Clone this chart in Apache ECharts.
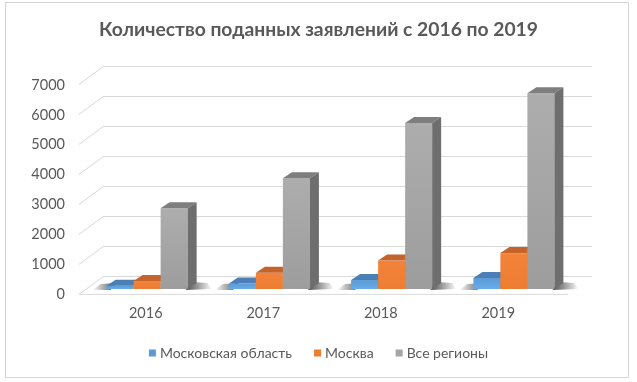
<!DOCTYPE html>
<html><head><meta charset="utf-8">
<script src="https://cdn.jsdelivr.net/npm/echarts@6/dist/echarts.min.js"></script>
<style>html,body{margin:0;padding:0;background:#fff}#c{width:637px;height:382px;}</style>
</head><body><div id="c"></div><script>
const categories = ['2016', '2017', '2018', '2019'];
const seriesNames = ['Московская область', 'Москва', 'Все регионы'];
const moscowRegion = [110, 180, 300, 370];
const moscow = [270, 540, 950, 1200];
const allRegions = [2700, 3700, 5550, 6550];
const yTicks = [0, 1000, 2000, 3000, 4000, 5000, 6000, 7000];

const FONT = 'Lato';
const TXT = '#595959';
const DEPTH_X = 24, DEPTH_Y = 17.7;
const palettes = [
  {front: ['#5b9bd5', '#67acea'], top: '#4b7fb5', side: '#3f6c9c', legend: '#5b9bd5'},
  {front: ['#f3833a', '#ed7d31'], top: '#c5642a', side: '#b25a22', legend: '#ed7d31'},
  {front: ['#adadad', '#9d9d9d'], top: '#7e7e7e', side: '#6e6e6e', legend: '#a5a5a5'}
];

function barRender(idx) {
  const pal = palettes[idx];
  return function (params, api) {
    const cat = api.value(0), val = api.value(1);
    const top = api.coord([cat, val]);
    const base = api.coord([cat, 0]);
    const band = api.size([1, 0])[0];
    const w = band * 0.221;
    const x0 = top[0] - 1.5 * w + idx * w, x1 = x0 + w;
    const dx = 9, dy = 6;
    const yt = top[1], yb = base[1];
    return {
      type: 'group',
      children: [
        {type: 'rect', shape: {x: x0, y: yt, width: w, height: yb - yt},
         style: {fill: new echarts.graphic.LinearGradient(0, 0, 0, 1, [{offset: 0, color: pal.front[0]}, {offset: 1, color: pal.front[1]}])}},
        {type: 'polygon', shape: {points: [[x0, yt], [x1, yt], [x1 + dx, yt - dy], [x0 + dx, yt - dy]]},
         style: {fill: pal.top}},
        {type: 'polygon', shape: {points: [[x1, yt], [x1 + dx, yt - dy], [x1 + dx, yb - dy], [x1, yb]]},
         style: {fill: pal.side}}
      ]
    };
  };
}

function shadowRender(params, api) {
  const cat = api.value(0);
  const base = api.coord([cat, 0]);
  const band = api.size([1, 0])[0];
  const w = band * 0.221;
  const xl = base[0] - 1.5 * w, xr = base[0] + 1.5 * w;
  const yb = base[1];
  return {
    type: 'group',
    children: [
      {type: 'polygon',
       shape: {points: [[xl - 14, yb + 1], [xl + 4, yb + 1], [xl + 10, yb - 6], [xl - 6, yb - 5]]},
       style: {fill: new echarts.graphic.LinearGradient(0, 0, 1, 0, [{offset: 0, color: 'rgba(0,0,0,0)'}, {offset: 1, color: 'rgba(40,40,40,0.75)'}])}},
      {type: 'polygon',
       shape: {points: [[xr - 2, yb + 1], [xr + 24, yb], [xr + 20, yb - 6], [xr + 4, yb - 7]]},
       style: {fill: new echarts.graphic.LinearGradient(0, 0, 1, 0, [{offset: 0, color: 'rgba(40,40,40,0.8)'}, {offset: 1, color: 'rgba(0,0,0,0)'}])}}
    ]
  };
}

function wallRender(params, api) {
  const v = api.value(1);
  const p = api.coord([0, v]);
  return {
    type: 'line',
    shape: {x1: p[0] - DEPTH_X, y1: p[1] + DEPTH_Y, x2: p[0], y2: p[1]},
    style: {stroke: '#d9d9d9', lineWidth: 1}
  };
}

function floorRender(params, api) {
  const bl = api.coord([0, 0]), br = api.coord([1, 0]);
  return {
    type: 'line',
    shape: {x1: bl[0] - DEPTH_X, y1: bl[1] + DEPTH_Y, x2: br[0] - DEPTH_X, y2: br[1] + DEPTH_Y},
    style: {stroke: '#d9d9d9', lineWidth: 1}
  };
}

const chart = echarts.init(document.getElementById('c'), null, {renderer: 'canvas'});
const series = [
  {type: 'custom', name: '_floor', xAxisIndex: 1, yAxisIndex: 1, data: [[0, 0]], renderItem: floorRender, silent: true, z: 1},
  {type: 'custom', name: '_wall', xAxisIndex: 1, yAxisIndex: 1, data: yTicks.map(v => [0, v]), renderItem: wallRender, silent: true, z: 1},
  {type: 'custom', name: '_shadow', xAxisIndex: 0, yAxisIndex: 0, data: categories.map((c, i) => [i, 0]), renderItem: shadowRender, silent: true, z: 2}
];
[moscowRegion, moscow, allRegions].forEach((arr, idx) => {
  series.push({
    type: 'custom', name: seriesNames[idx], xAxisIndex: 0, yAxisIndex: 0,
    itemStyle: {color: palettes[idx].legend},
    encode: {x: 0, y: 1},
    data: arr.map((v, i) => [i, v]),
    renderItem: barRender(idx), z: 3 + idx
  });
});

chart.setOption({
  animation: false,
  backgroundColor: '#fff',
  title: {
    text: 'Количество поданных заявлений с 2016 по 2019',
    left: 'center', top: 15,
    textStyle: {fontFamily: FONT, fontWeight: 'bold', fontSize: 19.3, color: TXT}
  },
  legend: {
    data: seriesNames, bottom: 17, left: 'center',
    itemWidth: 7, itemHeight: 7, itemGap: 22,
    icon: 'rect',
    textStyle: {fontFamily: FONT, fontSize: 14, color: TXT, padding: [0, 0, 0, -1]}
  },
  graphic: [{type: 'rect', shape: {x: 5.5, y: 2.5, width: 623, height: 375}, style: {fill: 'none', stroke: '#d4d4d4', lineWidth: 1}, z: -1}],
  grid: [
    {left: 86, right: 62, top: 79.7, bottom: 93},
    {left: 103, right: 45, top: 66.7, bottom: 105.3},
    {left: 87, right: 80, top: 85, bottom: 87.7}
  ],
  xAxis: [
    {type: 'category', gridIndex: 0, data: categories, show: false},
    {type: 'value', gridIndex: 1, min: 0, max: 1, show: false},
    {type: 'category', gridIndex: 2, data: categories, axisLine: {show: false}, axisTick: {show: false},
     axisLabel: {margin: 12, fontFamily: FONT, fontSize: 14.5, color: TXT}}
  ],
  yAxis: [
    {type: 'value', gridIndex: 0, min: 0, max: 7000, interval: 1000, show: false},
    {type: 'value', gridIndex: 1, min: 0, max: 7000, interval: 1000, axisLabel: {show: false}, axisLine: {show: false}, axisTick: {show: false},
     splitLine: {lineStyle: {color: '#d9d9d9', width: 1}}},
    {type: 'value', gridIndex: 2, min: 0, max: 7000, interval: 1000, axisLine: {show: false}, axisTick: {show: false}, splitLine: {show: false},
     axisLabel: {margin: 22, fontFamily: FONT, fontSize: 14.5, color: TXT, formatter: v => String(v)}}
  ],
  series: series
});
</script></body></html>
